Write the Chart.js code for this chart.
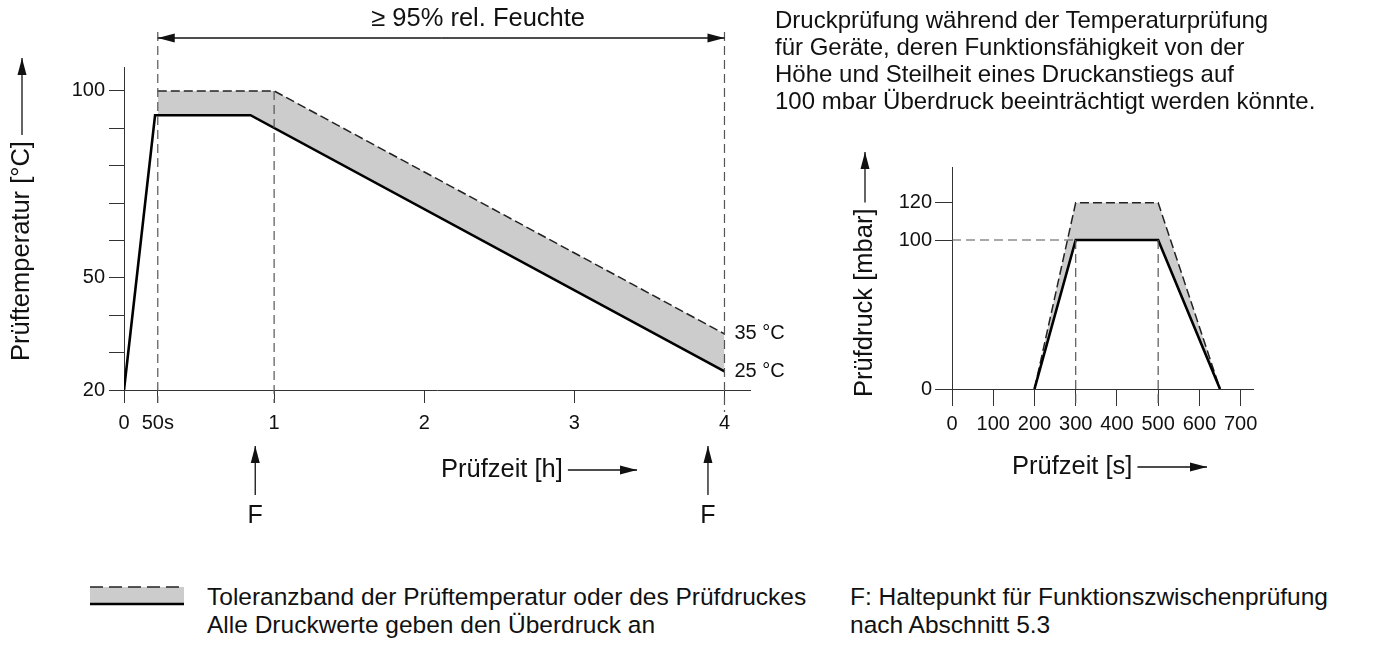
<!DOCTYPE html>
<html lang="de">
<head>
<meta charset="utf-8">
<title>Temperatur- und Druckprüfung</title>
<script src="https://cdn.jsdelivr.net/npm/chart.js@4.4.1/dist/chart.umd.min.js"></script>
<style>
  html, body { margin: 0; padding: 0; background: #fff; }
  body { width: 1381px; height: 651px; position: relative; overflow: hidden;
         font-family: "Liberation Sans", Arial, sans-serif; color: #111; }
  canvas { position: absolute; }
  #tempChart { left: 0; top: 0; }
  #pressChart { left: 830px; top: 140px; }
  .note { position: absolute; font-size: 24px; line-height: 27px; white-space: nowrap; }
  #intro { left: 775px; top: 6px; }
  #swatch { left: 90px; top: 584px; }
  #legendText { left: 207px; top: 583px; font-size: 24.5px; line-height: 28px; }
  #fText { left: 850px; top: 583px; font-size: 24.5px; line-height: 28px; }
</style>
</head>
<body>
<canvas id="tempChart" width="800" height="560"></canvas>
<canvas id="pressChart" width="551" height="370"></canvas>
<div class="note" id="intro">Druckprüfung während der Temperaturprüfung<br>für Geräte, deren Funktionsfähigkeit von der<br>Höhe und Steilheit eines Druckanstiegs auf<br>100 mbar Überdruck beeinträchtigt werden könnte.</div>
<canvas id="swatch" width="94" height="22"></canvas>
<div class="note" id="legendText">Toleranzband der Prüftemperatur oder des Prüfdruckes<br>Alle Druckwerte geben den Überdruck an</div>
<div class="note" id="fText">F: Haltepunkt für Funktionszwischenprüfung<br>nach Abschnitt 5.3</div>
<script>
"use strict";

// Temperaturprüfung, Zeit in h
const tempTime = [0, 46 / 3600, 0.8, 4];
const tempNominal = [20, 93.5, 93.5, 25];
const tempTolTime = [50 / 3600, 1, 4];
const tempTolerance = [100, 100, 35];
const tempTicks = [20, 30, 40, 50, 60, 70, 80, 90, 100];
const tempLabeled = [20, 50, 100];
const hourTicks = [0, 50 / 3600, 1, 2, 3, 4];
const hourLabels = ["0", "50s", "1", "2", "3", "4"];
const humidityStart = 50 / 3600;
const humidityEnd = 4;
const holdPoints = [0.84, 3.89];
const endTemps = [35, 25];

// Druckprüfung, Zeit in s
const pressTime = [200, 300, 500, 650];
const pressNominal = [0, 100, 100, 0];
const pressTolerance = [0, 120, 120, 0];
const pressTicks = [0, 100, 120];
const secondTicks = [0, 100, 200, 300, 400, 500, 600, 700];

const FONT = '"Liberation Sans", Arial, sans-serif';
Chart.defaults.font.family = FONT;
Chart.defaults.color = "#111";

// schematic axis: piecewise linear between break points
function through(v, from, to) {
  const n = from.length;
  if (v <= from[0]) return to[0] + (v - from[0]);
  for (let i = 1; i < n; i++) {
    if (v <= from[i]) {
      const t = (v - from[i - 1]) / (from[i] - from[i - 1]);
      return to[i - 1] + t * (to[i] - to[i - 1]);
    }
  }
  return to[n - 1] + (v - from[n - 1]);
}

class BrokenScale extends Chart.LinearScale {
  static id = "broken";
  static defaults = {};
  getPixelForValue(value) {
    const b = this.options.breaks;
    const lo = through(this.min, b.values, b.positions);
    const hi = through(this.max, b.values, b.positions);
    return this.getPixelForDecimal((through(value, b.values, b.positions) - lo) / (hi - lo));
  }
  getValueForPixel(pixel) {
    const b = this.options.breaks;
    const lo = through(this.min, b.values, b.positions);
    const hi = through(this.max, b.values, b.positions);
    return through(lo + this.getDecimalForPixel(pixel) * (hi - lo), b.positions, b.values);
  }
}
Chart.register(BrokenScale);

function dashed(ctx, x1, y1, x2, y2) {
  ctx.save();
  ctx.strokeStyle = "#555";
  ctx.lineWidth = 1.2;
  ctx.setLineDash([9, 5]);
  ctx.beginPath();
  ctx.moveTo(x1, y1);
  ctx.lineTo(x2, y2);
  ctx.stroke();
  ctx.restore();
}

function head(ctx, x, y, dx, dy, len = 17, half = 4.5) {
  ctx.beginPath();
  ctx.moveTo(x, y);
  ctx.lineTo(x - dx * len - dy * half, y - dy * len + dx * half);
  ctx.lineTo(x - dx * len + dy * half, y - dy * len - dx * half);
  ctx.closePath();
  ctx.fill();
}

function arrow(ctx, x1, y1, x2, y2) {
  const d = Math.hypot(x2 - x1, y2 - y1);
  ctx.save();
  ctx.strokeStyle = "#111";
  ctx.fillStyle = "#111";
  ctx.lineWidth = 1.3;
  ctx.beginPath();
  ctx.moveTo(x1, y1);
  ctx.lineTo(x2, y2);
  ctx.stroke();
  head(ctx, x2, y2, (x2 - x1) / d, (y2 - y1) / d);
  ctx.restore();
}

function titleUp(ctx, text, x, yBottom, tipY) {
  ctx.save();
  ctx.font = "25.5px " + FONT;
  ctx.fillStyle = "#111";
  ctx.translate(x, yBottom);
  ctx.rotate(-Math.PI / 2);
  ctx.textAlign = "left";
  ctx.textBaseline = "middle";
  ctx.fillText(text, 0, 0);
  const w = ctx.measureText(text).width;
  ctx.restore();
  arrow(ctx, x, yBottom - w - 6, x, tipY);
}

function titleRight(ctx, text, x, y, tipX) {
  ctx.save();
  ctx.font = "25.5px " + FONT;
  ctx.fillStyle = "#111";
  ctx.textAlign = "left";
  ctx.textBaseline = "middle";
  ctx.fillText(text, x, y);
  const w = ctx.measureText(text).width;
  ctx.restore();
  arrow(ctx, x + w + 5, y, tipX, y);
}

const tempNotes = {
  id: "tempNotes",
  afterDraw(chart) {
    const { ctx, chartArea: a, scales: { x, y } } = chart;
    const xs = x.getPixelForValue(humidityStart);
    const xe = x.getPixelForValue(humidityEnd);
    const xOne = x.getPixelForValue(tempTolTime[1]);
    const top = a.top - 29;

    dashed(ctx, xs, top - 6, xs, a.bottom + 13);
    dashed(ctx, xOne, y.getPixelForValue(tempTolerance[1]), xOne, a.bottom + 13);
    dashed(ctx, xe, top - 6, xe, a.bottom + 22);

    arrow(ctx, (xs + xe) / 2, top, xs, top);
    arrow(ctx, (xs + xe) / 2, top, xe, top);

    ctx.save();
    ctx.fillStyle = "#111";
    ctx.textBaseline = "middle";
    ctx.textAlign = "center";
    ctx.font = "25.5px " + FONT;
    ctx.fillText("\u2265 95% rel. Feuchte", (xs + xe) / 2 + 37, 19);

    ctx.textAlign = "left";
    ctx.font = "20px " + FONT;
    endTemps.forEach((t) => ctx.fillText(t + " \u00b0C", xe + 10, y.getPixelForValue(t)));

    ctx.textAlign = "center";
    ctx.font = "25px " + FONT;
    holdPoints.forEach((h) => {
      const px = x.getPixelForValue(h);
      ctx.fillText("F", px, a.bottom + 126);
    });
    ctx.restore();
    holdPoints.forEach((h) => {
      const px = x.getPixelForValue(h);
      arrow(ctx, px, a.bottom + 105, px, a.bottom + 56);
    });

    titleRight(ctx, "Prüfzeit [h]", a.left + 317, a.bottom + 80, 637);
    titleUp(ctx, "Prüftemperatur [°C]", 22, 361, 58);
  },
};

const pressNotes = {
  id: "pressNotes",
  afterDatasetsDraw(chart) {
    const { ctx, chartArea: a, scales: { x, y } } = chart;
    const yHold = y.getPixelForValue(pressNominal[1]);
    const xa = x.getPixelForValue(pressTime[1]);
    const xb = x.getPixelForValue(pressTime[2]);
    dashed(ctx, a.left, yHold, xa, yHold);
    dashed(ctx, xa, yHold, xa, a.bottom + 17);
    dashed(ctx, xb, yHold, xb, a.bottom + 17);
  },
  afterDraw(chart) {
    const { ctx, chartArea: a } = chart;
    titleUp(ctx, "Prüfdruck [mbar]", 35, a.bottom + 8, 12);
    titleRight(ctx, "Prüfzeit [s]", 182, a.bottom + 78, 377);
  },
};

const axisLook = (len) => ({
  grid: { drawOnChartArea: false, tickLength: len, color: "#333", lineWidth: 1 },
  border: { color: "#333", width: 1 },
});

const common = {
  responsive: false,
  animation: false,
  events: [],
  plugins: { legend: { display: false }, tooltip: { enabled: false }, filler: { propagate: false } },
};

new Chart(document.getElementById("tempChart"), {
  type: "line",
  data: {
    datasets: [
      {
        data: tempTime.map((t, i) => ({ x: t, y: tempNominal[i] })),
        borderColor: "#000",
        borderWidth: 2.6,
        pointRadius: 0,
        fill: false,
      },
      {
        data: tempTolTime.map((t, i) => ({ x: t, y: tempTolerance[i] })),
        borderColor: "#222",
        borderWidth: 1.5,
        borderDash: [9, 4],
        pointRadius: 0,
        backgroundColor: "#cccccc",
        fill: "-1",
      },
    ],
  },
  options: {
    ...common,
    layout: { padding: { left: 0, top: 67, right: 50, bottom: 0 } },
    scales: {
      x: {
        type: "broken",
        min: 0,
        max: 4.17,
        breaks: { values: [0, 50 / 3600, 1], positions: [0, 0.225, 1] },
        afterBuildTicks: (s) => { s.ticks = hourTicks.map((v) => ({ value: v })); },
        ticks: { callback: (v, i) => hourLabels[i], autoSkip: false, maxRotation: 0, padding: 8, font: { size: 20 } },
        afterFit: (s) => { s.height = 170; },
        ...axisLook(13),
      },
      y: {
        type: "linear",
        min: 20,
        max: 106.4,
        afterBuildTicks: (s) => { s.ticks = tempTicks.map((v) => ({ value: v })); },
        ticks: { callback: (v) => (tempLabeled.includes(v) ? String(v) : ""), autoSkip: false, padding: 4, font: { size: 20 } },
        afterFit: (s) => { s.width = 124; },
        ...axisLook(15),
      },
    },
  },
  plugins: [tempNotes],
});

new Chart(document.getElementById("pressChart"), {
  type: "line",
  data: {
    datasets: [
      {
        data: pressTime.map((t, i) => ({ x: t, y: pressNominal[i] })),
        borderColor: "#000",
        borderWidth: 2.6,
        pointRadius: 0,
        fill: false,
      },
      {
        data: pressTime.map((t, i) => ({ x: t, y: pressTolerance[i] })),
        borderColor: "#222",
        borderWidth: 1.5,
        borderDash: [9, 4],
        pointRadius: 0,
        backgroundColor: "#cccccc",
        fill: "-1",
      },
    ],
  },
  options: {
    ...common,
    layout: { padding: { left: 0, top: 27, right: 128, bottom: 0 } },
    scales: {
      x: {
        type: "linear",
        min: 0,
        max: 730,
        afterBuildTicks: (s) => { s.ticks = secondTicks.map((v) => ({ value: v })); },
        ticks: { autoSkip: false, maxRotation: 0, padding: 6, font: { size: 20 } },
        afterFit: (s) => { s.height = 121; },
        ...axisLook(17),
      },
      y: {
        type: "broken",
        min: 0,
        max: 144,
        breaks: { values: [0, 100, 120], positions: [0, 100, 125] },
        afterBuildTicks: (s) => { s.ticks = pressTicks.map((v) => ({ value: v })); },
        ticks: { callback: (v) => String(v), autoSkip: false, padding: 3, font: { size: 20 } },
        afterFit: (s) => { s.width = 122; },
        ...axisLook(17),
      },
    },
  },
  plugins: [pressNotes],
});

// legend swatch: dashed upper limit, band, solid nominal line
const sw = document.getElementById("swatch").getContext("2d");
sw.fillStyle = "#cccccc";
sw.fillRect(0, 3, 94, 17);
sw.strokeStyle = "#222";
sw.lineWidth = 1.5;
sw.setLineDash([13, 6]);
sw.beginPath();
sw.moveTo(0, 3);
sw.lineTo(94, 3);
sw.stroke();
sw.setLineDash([]);
sw.strokeStyle = "#000";
sw.lineWidth = 2.6;
sw.beginPath();
sw.moveTo(0, 20);
sw.lineTo(94, 20);
sw.stroke();
</script>
</body>
</html>
